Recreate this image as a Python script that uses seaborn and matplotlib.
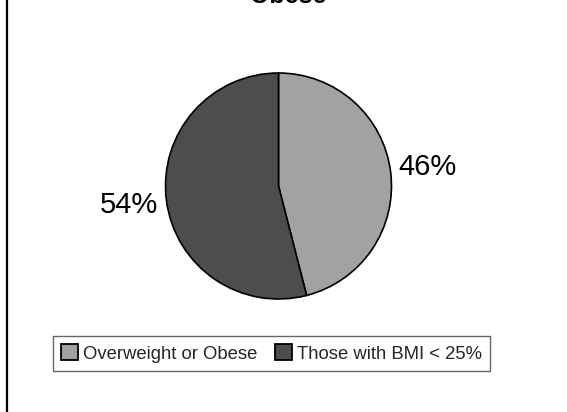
import matplotlib
matplotlib.use("Agg")
import matplotlib.pyplot as plt
from matplotlib.lines import Line2D
from matplotlib.patches import Patch
import seaborn as sns

# Share of adults by weight status
categories = ["Overweight or Obese", "Those with BMI < 25%"]
shares = [46, 54]
title = "Obese"

sns.set_theme(style="white")
plt.rcParams["font.family"] = ["Liberation Sans", "DejaVu Sans"]

colors = ["#A2A2A2", "#4D4D4D"]

W, H = 567, 412
fig = plt.figure(figsize=(W / 100, H / 100), dpi=100)
fig.patch.set_facecolor("white")

# Pie axes: centre (278.5, 186) px from top-left, radius 113 px
cx, cy, r = 278.5, 186, 113
ax = fig.add_axes([(cx - r) / W, (H - cy - r) / H, 2 * r / W, 2 * r / H])
wedges, _, autotexts = ax.pie(
    shares,
    colors=colors,
    startangle=90,
    counterclock=False,
    autopct="%.0f%%",
    pctdistance=1.33,
    wedgeprops=dict(edgecolor="black", linewidth=1.2),
    textprops=dict(fontsize=21, color="black"),
)
for t in autotexts:
    t.set_clip_on(False)
ax.set_xlim(-1, 1)
ax.set_ylim(-1, 1)
ax.set_aspect("equal")
ax.axis("off")

# Title sits at the very top edge of the chart area
fig.text(288 / W, (H - 3) / H, title, ha="center", va="baseline",
         fontsize=18, fontweight="bold", color="black")

# Left border of the chart area
fig.add_artist(Line2D([6.5 / W, 6.5 / W], [0, 1], transform=fig.transFigure,
                      color="black", linewidth=1.6))

handles = [Patch(facecolor=c, edgecolor="black", linewidth=1.3) for c in colors]
leg = fig.legend(
    handles, categories, loc="center",
    bbox_to_anchor=(271.5 / W, (H - 353.5) / H),
    ncol=2, frameon=True, fancybox=False, fontsize=13.3,
    handlelength=0.9, handleheight=0.9, handletextpad=0.25,
    columnspacing=1.0, borderpad=0.45, borderaxespad=0,
)
leg.get_frame().set_edgecolor("#404040")
leg.get_frame().set_linewidth(1.0)

fig.savefig("out.png", dpi=100, facecolor="white")
